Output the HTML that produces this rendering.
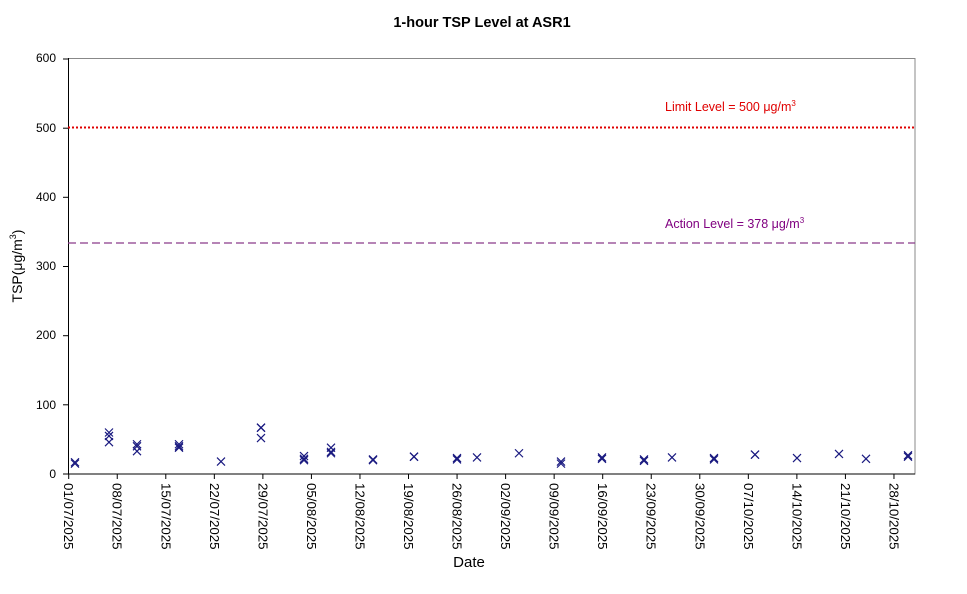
<!DOCTYPE html>
<html><head><meta charset="utf-8"><style>body{margin:0;background:#fff}svg{display:block}text{font-family:"Liberation Sans",Arial,sans-serif}</style></head><body>
<svg width="967" height="594" xmlns="http://www.w3.org/2000/svg">
<defs><g id="m"><path d="M-4,-4L4,4M-4,4L4,-4" stroke="#1a1a80" stroke-width="1.2"/></g></defs>
<text x="482" y="27" font-size="14.5" font-weight="bold" text-anchor="middle">1-hour TSP Level at ASR1</text>
<rect x="68.5" y="58.5" width="846.5" height="415.5" fill="none" stroke="#888" stroke-width="1"/>
<line x1="68.5" y1="58" x2="68.5" y2="474" stroke="#000"/>
<line x1="68" y1="474" x2="915" y2="474" stroke="#000"/>
<g font-size="12" text-anchor="end">
<text x="56" y="478">0</text><text x="56" y="409">100</text><text x="56" y="339">200</text><text x="56" y="270">300</text><text x="56" y="201">400</text><text x="56" y="132">500</text><text x="56" y="62">600</text>
</g>
<g stroke="#000"><line x1="63" y1="474" x2="68" y2="474"/><line x1="63" y1="404.8" x2="68" y2="404.8"/><line x1="63" y1="335.7" x2="68" y2="335.7"/><line x1="63" y1="266.5" x2="68" y2="266.5"/><line x1="63" y1="197.3" x2="68" y2="197.3"/><line x1="63" y1="128.2" x2="68" y2="128.2"/><line x1="63" y1="59" x2="68" y2="59"/></g>
<text transform="translate(22,266) rotate(-90)" font-size="14" text-anchor="middle">TSP(μg/m<tspan font-size="9" dy="-6">3</tspan><tspan dy="6">)</tspan></text>
<line x1="68" y1="127.5" x2="915" y2="127.5" stroke="#e00000" stroke-width="2" stroke-dasharray="2,2"/>
<line x1="68" y1="243" x2="915" y2="243" stroke="#8b3a8b" stroke-width="1.2" stroke-dasharray="8,4"/>
<text x="665" y="111" font-size="12.5" fill="#e00000">Limit Level = 500 μg/m<tspan font-size="8" dy="-5">3</tspan></text>
<text x="665" y="228" font-size="12.5" fill="#800080">Action Level = 378 μg/m<tspan font-size="8" dy="-5">3</tspan></text>
<text x="469" y="567" font-size="15" text-anchor="middle">Date</text>
<g id="ticks"></g><g id="pts"></g>
<script>
var ns="http://www.w3.org/2000/svg";
var labels=["01/07/2025","08/07/2025","15/07/2025","22/07/2025","29/07/2025","05/08/2025","12/08/2025","19/08/2025","26/08/2025","02/09/2025","09/09/2025","16/09/2025","23/09/2025","30/09/2025","07/10/2025","14/10/2025","21/10/2025","28/10/2025"];
var tk=document.getElementById("ticks");
labels.forEach(function(l,i){var x=68.7+i*7*6.935;
var ln=document.createElementNS(ns,"line");ln.setAttribute("x1",x);ln.setAttribute("x2",x);ln.setAttribute("y1",474);ln.setAttribute("y2",479);ln.setAttribute("stroke","#000");tk.appendChild(ln);
var t=document.createElementNS(ns,"text");t.setAttribute("transform","translate("+(x-4.5)+",483) rotate(90)");t.setAttribute("font-size","13.3");t.textContent=l;tk.appendChild(t);});
var d=[[75,[17,15]],[109,[60,55,46]],[137,[43,40,33]],[179,[43,40,38]],[221,[18]],[261,[67,67,52]],[304,[26,22,20]],[331,[38,30,32]],[373,[21,20]],[414,[25,25]],[457,[23,21]],[477,[24]],[519,[30]],[561,[18,15]],[602,[24,22]],[644,[21,19]],[672,[24]],[714,[23,21]],[755,[28,28]],[797,[23]],[839,[29]],[866,[22]],[908,[27,25]]];
var p=document.getElementById("pts");
d.forEach(function(r){r[1].forEach(function(v){var u=document.createElementNS(ns,"use");u.setAttribute("href","#m");u.setAttribute("x",r[0]);u.setAttribute("y",474-v*0.6917);p.appendChild(u);});});
</script>
</svg>
</body></html>
